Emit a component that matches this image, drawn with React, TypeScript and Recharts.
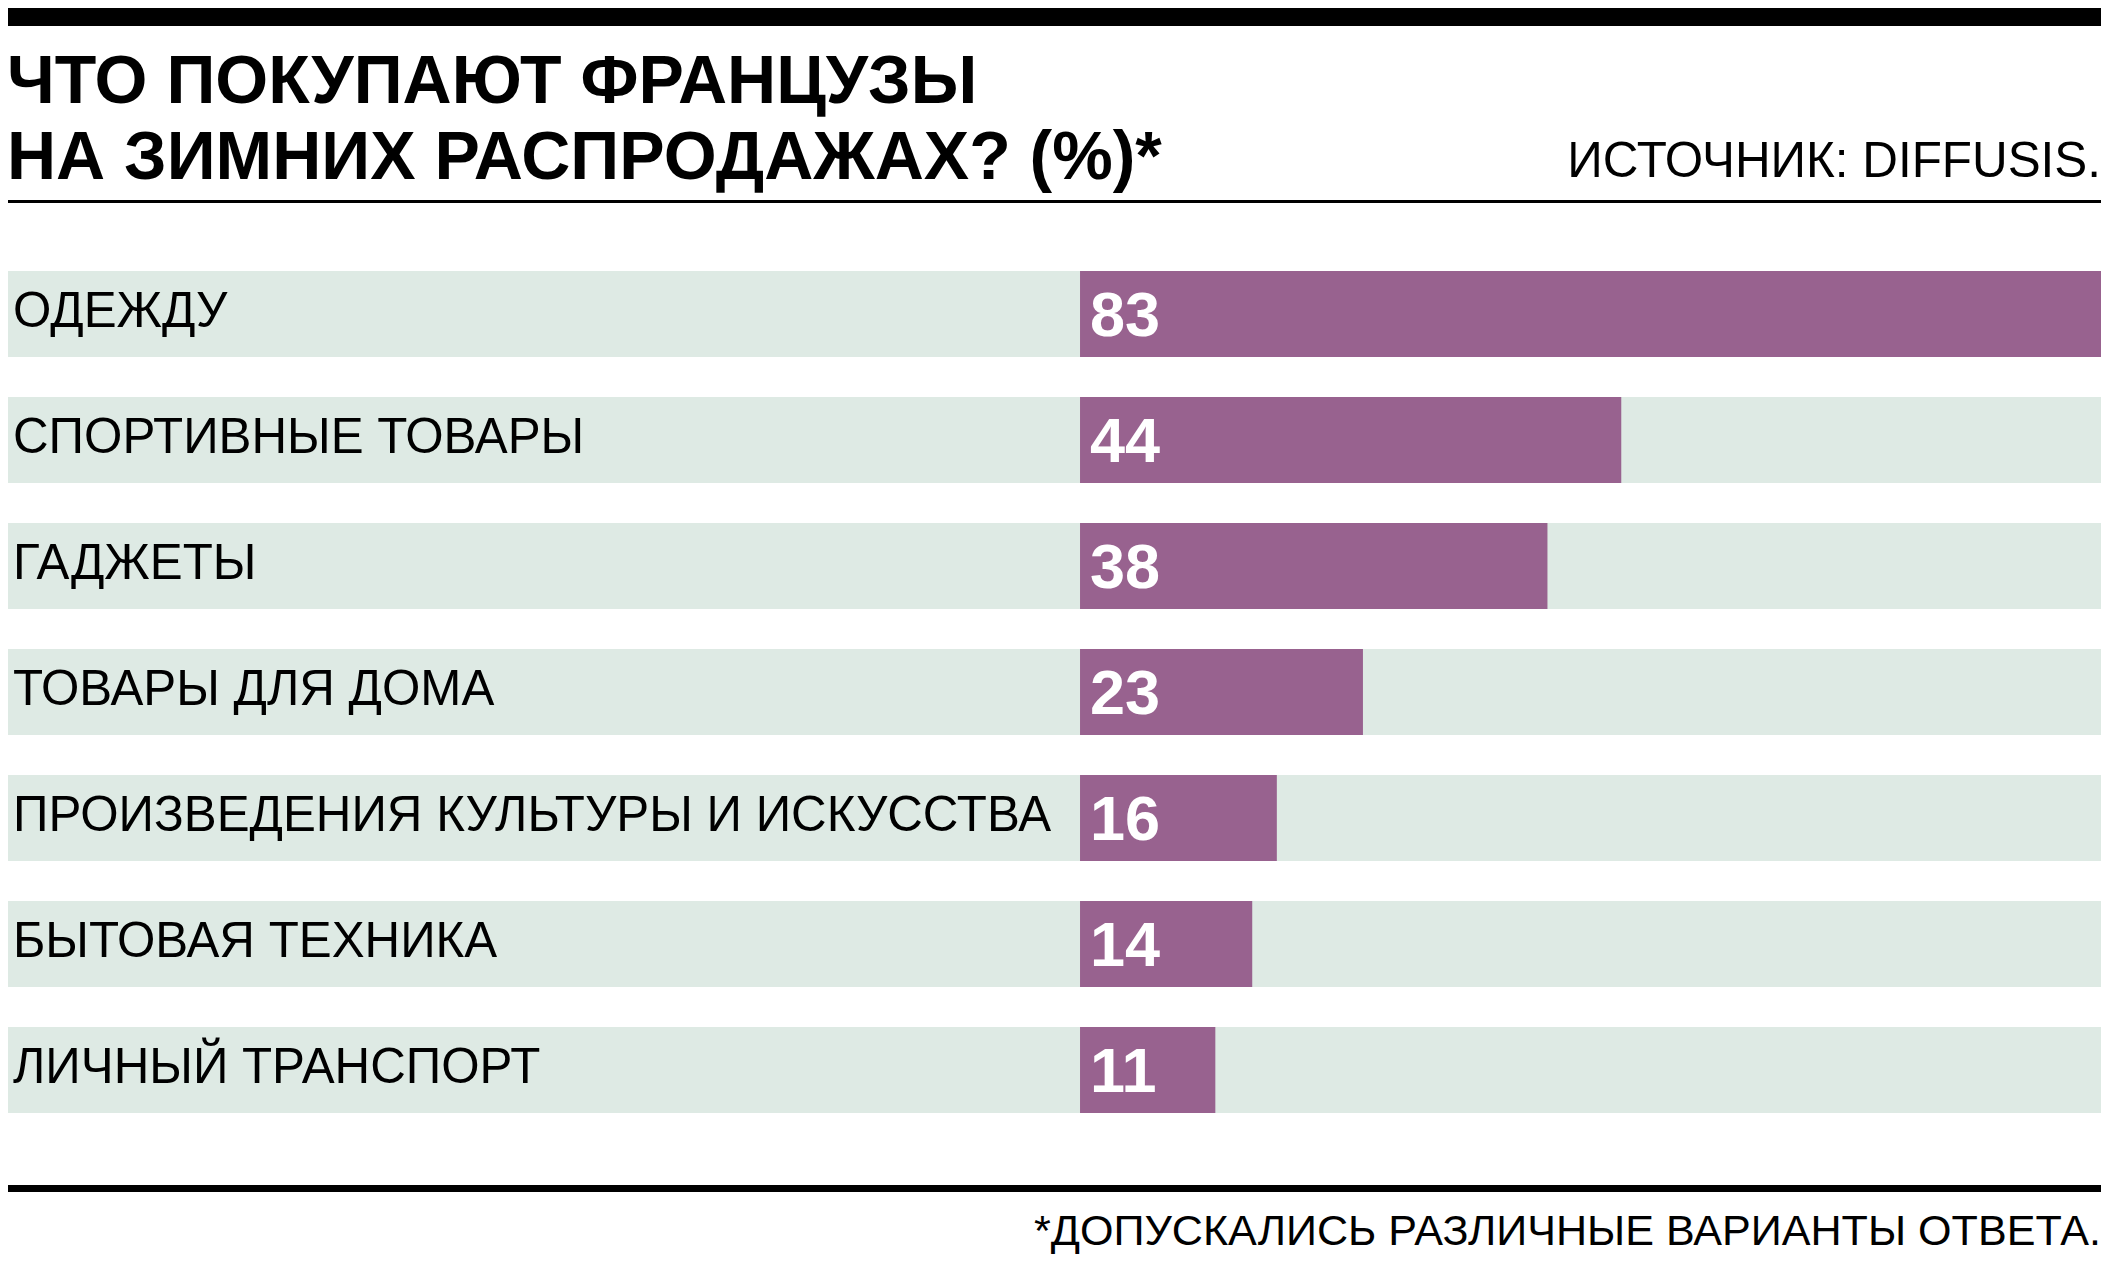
import React from 'react';
import { BarChart, Bar, XAxis, YAxis, LabelList } from 'recharts';

// категории и доли (%)
const categories = [
  'ОДЕЖДУ',
  'СПОРТИВНЫЕ ТОВАРЫ',
  'ГАДЖЕТЫ',
  'ТОВАРЫ ДЛЯ ДОМА',
  'ПРОИЗВЕДЕНИЯ КУЛЬТУРЫ И ИСКУССТВА',
  'БЫТОВАЯ ТЕХНИКА',
  'ЛИЧНЫЙ ТРАНСПОРТ',
];
const values = [83, 44, 38, 23, 16, 14, 11];

const titleLines = ['ЧТО ПОКУПАЮТ ФРАНЦУЗЫ', 'НА ЗИМНИХ РАСПРОДАЖАХ? (%)*'];
const sourceText = 'ИСТОЧНИК: DIFFUSIS.';
const footnoteText = '*ДОПУСКАЛИСЬ РАЗЛИЧНЫЕ ВАРИАНТЫ ОТВЕТА.';

const data = categories.map((name, i) => ({ name, value: values[i] }));

const W = 2112;
const H = 1266;
const PURPLE = '#98628f';
const ROW_BG = '#deeae4';
const FONT = '"Liberation Sans", Arial, Helvetica, sans-serif';

// место слева под подписи, в единицах шкалы (ноль шкалы приходится на x=1080)
const LABEL_UNITS = 87.15;

// подпись категории у левого края строки (рисуется поверх фона строки)
const CategoryLabel = (props: any) => {
  const { y, height, value } = props;
  return (
    <text
      x={13}
      y={y + height / 2 + 13}
      fill="#000"
      fontFamily={FONT}
      fontSize={49.3}
      textAnchor="start"
    >
      {value}
    </text>
  );
};

const ValueLabel = (props: any) => {
  const { x, y, height, value } = props;
  return (
    <text
      x={x + 10}
      y={y + height / 2 + 22}
      fill="#fff"
      fontFamily={FONT}
      fontWeight="bold"
      fontSize={63}
    >
      {value}
    </text>
  );
};

export default function App() {
  return (
    <div style={{ position: 'absolute', left: 0, top: 0, width: W, height: H, background: '#fff' }}>
      <BarChart
        width={W}
        height={H}
        data={data}
        layout="vertical"
        margin={{ top: 251, right: 11, bottom: 133, left: 8 }}
        barCategoryGap={0}
      >
        <XAxis type="number" domain={[-LABEL_UNITS, 83]} hide />
        <YAxis type="category" dataKey="name" hide />
        <Bar
          dataKey="value"
          fill={PURPLE}
          barSize={86}
          background={{ fill: ROW_BG }}
          isAnimationActive={false}
        >
          <LabelList dataKey="name" content={<CategoryLabel />} />
          <LabelList dataKey="value" content={<ValueLabel />} />
        </Bar>
      </BarChart>

      <svg
        width={W}
        height={H}
        style={{ position: 'absolute', left: 0, top: 0, pointerEvents: 'none' }}
      >
        <rect x={8} y={8} width={2093} height={18} fill="#000" />
        {titleLines.map((line, i) => (
          <text
            key={i}
            x={7}
            y={103 + i * 76}
            fontFamily={FONT}
            fontWeight="bold"
            fontSize={68}
            fill="#000"
          >
            {line}
          </text>
        ))}
        <text x={2101} y={177} textAnchor="end" fontFamily={FONT} fontSize={49.4} fill="#000">
          {sourceText}
        </text>
        <rect x={8} y={200} width={2093} height={3} fill="#000" />
        <rect x={8} y={1185} width={2093} height={7} fill="#000" />
        <text x={2101} y={1245} textAnchor="end" fontFamily={FONT} fontSize={43.1} fill="#000">
          {footnoteText}
        </text>
      </svg>
    </div>
  );
}
